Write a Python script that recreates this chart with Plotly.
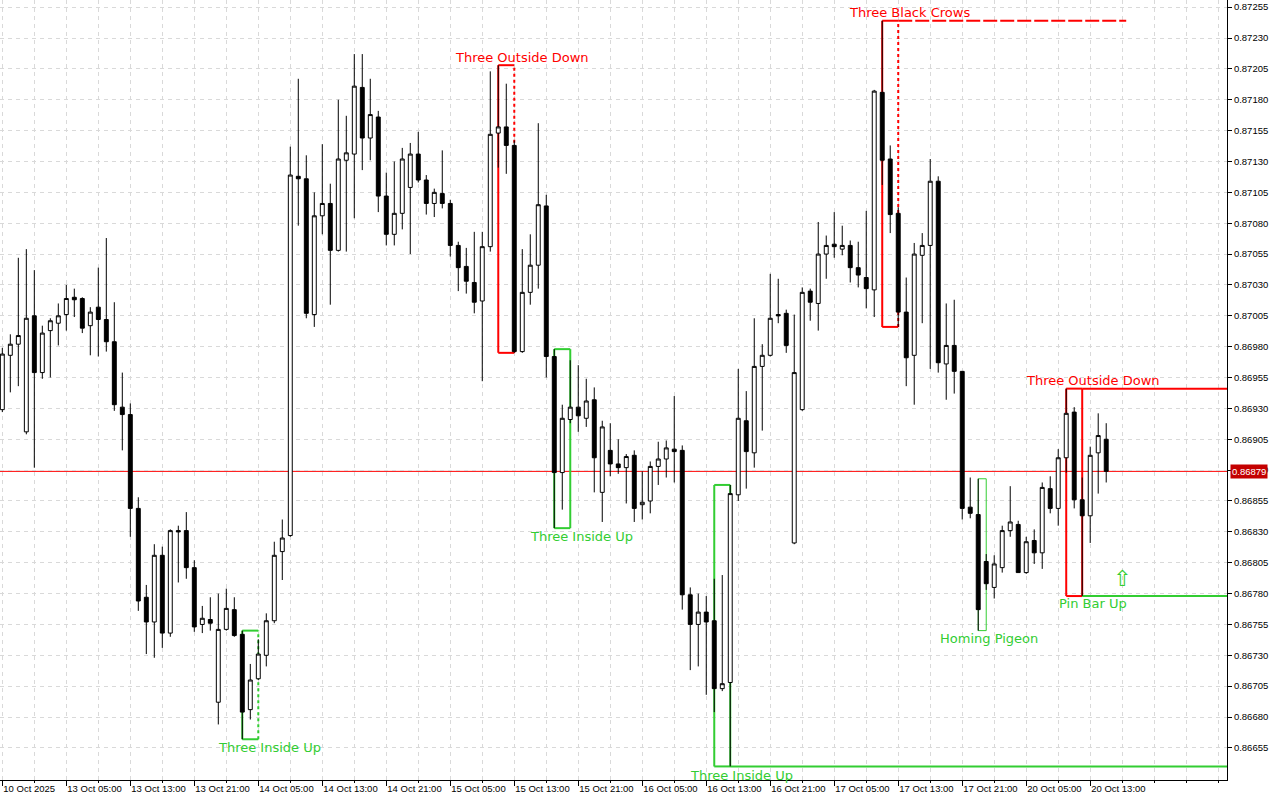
import plotly.graph_objects as go

# ---------------- data (H1 candles) ----------------
opens = [0.86929,0.86973,0.86982,0.86911,0.87005,0.86959,0.86993,0.86999,0.87006,0.87020,
         0.87019,0.86997,0.87012,0.87002,0.86984,0.86931,0.86925,0.86849,0.86777,0.86757,
         0.86811,0.86748,0.86831,0.86831,0.86801,0.86755,0.86759,0.86692,0.86751,0.86767,
         0.86747,0.86686,0.86711,0.86730,0.86758,0.86814,0.86827,0.87118,0.87116,0.87006,
         0.87086,0.87096,0.87058,0.87131,0.87136,0.87190,0.87149,0.87166,0.87102,0.87071,
         0.87088,0.87109,0.87136,0.87115,0.87096,0.87104,0.87096,0.87062,0.87045,0.87032,
         0.87017,0.87061,0.87153,0.87158,0.87143,0.86976,0.87024,0.87046,0.87094,0.86972,
         0.86878,0.86921,0.86931,0.86922,0.86937,0.86862,0.86896,0.86885,0.86882,0.86892,
         0.86852,0.86855,0.86883,0.86889,0.86897,0.86896,0.86779,0.86755,0.86765,0.86758,
         0.86703,0.86708,0.86860,0.86920,0.86894,0.86964,0.86973,0.87006,0.87007,0.86821,
         0.86929,0.87025,0.87015,0.87055,0.87063,0.87059,0.87062,0.87044,0.87036,0.87026,
         0.87186,0.87132,0.87088,0.87008,0.86973,0.87054,0.87062,0.87114,0.86966,0.86981,
         0.86960,0.86850,0.86844,0.86806,0.86785,0.86801,0.86831,0.86836,0.86797,0.86823,
         0.86813,0.86865,0.86849,0.86890,0.86927,0.86856,0.86843,0.86894,0.86905]
highs = [0.86979,0.86990,0.87052,0.87059,0.87042,0.86997,0.87003,0.87015,0.87030,0.87027,
         0.87020,0.87012,0.87044,0.87068,0.87016,0.86959,0.86934,0.86858,0.86787,0.86820,
         0.86818,0.86832,0.86835,0.86846,0.86807,0.86770,0.86777,0.86780,0.86784,0.86777,
         0.86750,0.86723,0.86743,0.86764,0.86822,0.86840,0.87142,0.87197,0.87135,0.87105,
         0.87144,0.87112,0.87180,0.87167,0.87217,0.87217,0.87197,0.87171,0.87121,0.87130,
         0.87141,0.87145,0.87154,0.87119,0.87108,0.87139,0.87099,0.87065,0.87060,0.87073,
         0.87073,0.87203,0.87208,0.87193,0.87147,0.87059,0.87071,0.87161,0.87103,0.86978,
         0.86933,0.86969,0.86965,0.86954,0.86947,0.86920,0.86918,0.86905,0.86893,0.86896,
         0.86879,0.86887,0.86903,0.86904,0.86940,0.86900,0.86785,0.86780,0.86778,0.86792,
         0.86795,0.86868,0.86962,0.86944,0.87003,0.86982,0.87039,0.87035,0.87010,0.87006,
         0.87028,0.87027,0.87081,0.87070,0.87089,0.87078,0.87066,0.87065,0.87090,0.87188,
         0.87244,0.87143,0.87093,0.87036,0.87064,0.87072,0.87132,0.87118,0.87015,0.87018,
         0.86960,0.86874,0.86873,0.86812,0.86811,0.86835,0.86867,0.86839,0.86826,0.86832,
         0.86870,0.86875,0.86897,0.86946,0.86931,0.86874,0.86899,0.86926,0.86918]
lows = [0.86927,0.86943,0.86948,0.86909,0.86882,0.86954,0.86955,0.86981,0.86993,0.87004,
        0.86991,0.86973,0.86972,0.86976,0.86928,0.86896,0.86826,0.86766,0.86731,0.86728,
        0.86736,0.86745,0.86789,0.86792,0.86749,0.86748,0.86750,0.86674,0.86750,0.86745,
        0.86662,0.86678,0.86710,0.86721,0.86756,0.86791,0.86826,0.87078,0.87003,0.86996,
        0.87071,0.87014,0.87057,0.87057,0.87084,0.87123,0.87131,0.87089,0.87062,0.87062,
        0.87075,0.87055,0.87113,0.87087,0.87085,0.87092,0.87053,0.87025,0.87023,0.87007,
        0.86952,0.87057,0.87125,0.87120,0.86975,0.86975,0.87014,0.87027,0.86955,0.86833,
        0.86848,0.86918,0.86911,0.86915,0.86862,0.86838,0.86875,0.86877,0.86853,0.86838,
        0.86840,0.86845,0.86868,0.86874,0.86870,0.86767,0.86718,0.86721,0.86698,0.86684,
        0.86701,0.86640,0.86855,0.86865,0.86882,0.86912,0.86972,0.86999,0.86975,0.86820,
        0.86928,0.87001,0.86993,0.87035,0.87052,0.87054,0.87032,0.87028,0.87011,0.87004,
        0.87111,0.87072,0.86996,0.86948,0.86933,0.86999,0.86962,0.86959,0.86937,0.86942,
        0.86840,0.86841,0.86750,0.86783,0.86776,0.86797,0.86826,0.86797,0.86796,0.86804,
        0.86800,0.86845,0.86835,0.86878,0.86849,0.86778,0.86821,0.86861,0.86870]
closes = [0.86974,0.86982,0.86989,0.87003,0.86959,0.86991,0.87001,0.87005,0.87019,0.87018,
          0.86995,0.87008,0.87002,0.86984,0.86933,0.86925,0.86849,0.86774,0.86757,0.86811,
          0.86748,0.86831,0.86830,0.86801,0.86753,0.86760,0.86756,0.86751,0.86768,0.86746,
          0.86684,0.86710,0.86731,0.86758,0.86811,0.86825,0.87119,0.87116,0.87007,0.87086,
          0.87096,0.87058,0.87132,0.87137,0.87191,0.87149,0.87168,0.87102,0.87071,0.87088,
          0.87132,0.87136,0.87115,0.87096,0.87105,0.87096,0.87062,0.87044,0.87033,0.87016,
          0.87061,0.87152,0.87158,0.87143,0.86976,0.87024,0.87046,0.87095,0.86972,0.86878,
          0.86922,0.86931,0.86924,0.86936,0.86890,0.86915,0.86885,0.86882,0.86891,0.86849,
          0.86854,0.86883,0.86889,0.86898,0.86895,0.86779,0.86755,0.86765,0.86757,0.86703,
          0.86707,0.86861,0.86922,0.86895,0.86964,0.86973,0.87003,0.87005,0.86981,0.86959,
          0.87024,0.87016,0.87055,0.87062,0.87061,0.87062,0.87044,0.87038,0.87027,0.87187,
          0.87131,0.87087,0.87008,0.86971,0.87055,0.87062,0.87114,0.86967,0.86981,0.86960,
          0.86849,0.86845,0.86767,0.86788,0.86804,0.86831,0.86838,0.86797,0.86822,0.86813,
          0.86866,0.86849,0.86890,0.86926,0.86856,0.86843,0.86892,0.86908,0.86879]

time_tick_index = [0, 8, 16, 24, 32, 40, 48, 56, 64, 72, 80, 88, 96, 104, 112, 120, 128, 136]
time_tick_labels = ["10 Oct 2025", "13 Oct 05:00", "13 Oct 13:00", "13 Oct 21:00",
                    "14 Oct 05:00", "14 Oct 13:00", "14 Oct 21:00", "15 Oct 05:00",
                    "15 Oct 13:00", "15 Oct 21:00", "16 Oct 05:00", "16 Oct 13:00",
                    "16 Oct 21:00", "17 Oct 05:00", "17 Oct 13:00", "17 Oct 21:00",
                    "20 Oct 05:00", "20 Oct 13:00"]

price_ticks = [0.86655, 0.86680, 0.86705, 0.86730, 0.86755, 0.86780, 0.86805, 0.86830,
               0.86855, 0.86880, 0.86905, 0.86930, 0.86955, 0.86980, 0.87005, 0.87030,
               0.87055, 0.87080, 0.87105, 0.87130, 0.87155, 0.87180, 0.87205, 0.87230,
               0.87255]
price_tick_labels = ["%.5f" % v for v in price_ticks]

current_price = 0.86879

# candle patterns
pattern_names = ["Three Inside Up", "Three Outside Down", "Three Inside Up", "Three Inside Up",
                 "Three Black Crows", "Homing Pigeon", "Three Outside Down"]
pattern_start = [30, 62, 69, 89, 110, 122, 133]
pattern_end = [32, 64, 71, 91, 112, 123, 135]
pattern_high = [0.86750, 0.87208, 0.86978, 0.86868, 0.87244, 0.86873, 0.86946]
pattern_low = [0.86662, 0.86975, 0.86833, 0.86640, 0.86996, 0.86750, 0.86778]
pattern_bullish = [True, False, True, True, False, True, False]

pin_bar_index = 135
pin_bar_level = 0.86778

# ---------------- style ----------------
RED = "#ff0000"
GREEN = "#32cd32"
GRID = "#d9d9d9"
X_MIN, X_MAX = -0.29, 153.1
Y_MIN, Y_MAX = 0.866290, 0.872608

label_pos_x = [33.4, 65.0, 72.4, 92.4, 113.4, 123.4, 136.4]
label_pos_y = [0.86655, 0.87214, 0.86826, 0.86633, 0.87251, 0.86744, 0.86953]
right_edge_dash = ["dot", "dot", "solid", "solid", "dot", "solid", "solid"]
rect_width = [2, 2, 2, 2, 2, 1, 2]

x = list(range(len(opens)))

fig = go.Figure()
fig.add_trace(go.Candlestick(
    x=x, open=opens, high=highs, low=lows, close=closes,
    increasing=dict(line=dict(color="black", width=1), fillcolor="white"),
    decreasing=dict(line=dict(color="black", width=1), fillcolor="black"),
    whiskerwidth=0, hoverinfo="skip", showlegend=False,
))

shapes = []
annotations = []

# current price line
shapes.append(dict(type="line", xref="paper", yref="y", x0=0, x1=1,
                   y0=current_price, y1=current_price,
                   line=dict(color="#ff0000", width=1), layer="between"))

for k, name in enumerate(pattern_names):
    col = GREEN if pattern_bullish[k] else RED
    x0, x1 = pattern_start[k], pattern_end[k]
    hi, lo = pattern_high[k], pattern_low[k]
    w = rect_width[k]
    for (ax, ay, bx, by, dash) in [(x0, lo, x0, hi, "solid"), (x0, hi, x1, hi, "solid"),
                                   (x0, lo, x1, lo, "solid"), (x1, lo, x1, hi, right_edge_dash[k])]:
        shapes.append(dict(type="line", xref="x", yref="y", x0=ax, y0=ay, x1=bx, y1=by,
                           line=dict(color=col, width=w, dash=dash), layer="between"))
    annotations.append(dict(x=label_pos_x[k], y=label_pos_y[k], xref="x", yref="y",
                            text=name, showarrow=False,
                            font=dict(family="DejaVu Sans", size=13, color=col)))

# extension lines
shapes.append(dict(type="line", xref="x", yref="y", x0=pattern_end[3], x1=X_MAX,
                   y0=pattern_low[3], y1=pattern_low[3],
                   line=dict(color=GREEN, width=2), layer="between"))
shapes.append(dict(type="line", xref="x", yref="y", x0=pattern_end[4], x1=140.5,
                   y0=pattern_high[4], y1=pattern_high[4],
                   line=dict(color=RED, width=2, dash="14px,3px"), layer="between"))
shapes.append(dict(type="line", xref="x", yref="y", x0=pattern_end[6], x1=X_MAX,
                   y0=pattern_high[6], y1=pattern_high[6],
                   line=dict(color=RED, width=2), layer="between"))
shapes.append(dict(type="line", xref="x", yref="y", x0=pin_bar_index, x1=X_MAX,
                   y0=pin_bar_level, y1=pin_bar_level,
                   line=dict(color=GREEN, width=2), layer="between"))

annotations.append(dict(x=136.4, y=0.86772, xref="x", yref="y", text="Pin Bar Up",
                        showarrow=False, font=dict(family="DejaVu Sans", size=13, color=GREEN)))
annotations.append(dict(x=140.0, y=0.86792, xref="x", yref="y", text="\u21e7",
                        showarrow=False, font=dict(family="DejaVu Sans", size=22, color=GREEN)))

# current price tag
annotations.append(dict(x=1, xref="paper", xanchor="left", xshift=3, y=current_price, yref="y",
                        text=f"{current_price:.5f}", showarrow=False, bgcolor="#c40000",
                        borderpad=1, font=dict(family="Liberation Sans", size=9.5, color="white")))

fig.update_layout(
    width=1280, height=800,
    margin=dict(l=0, r=53, t=0, b=20),
    paper_bgcolor="white", plot_bgcolor="white",
    showlegend=False, hovermode=False,
    shapes=shapes, annotations=annotations,
    font=dict(family="Liberation Sans", size=9.5, color="black"),
)
fig.update_xaxes(
    range=[X_MIN, X_MAX], rangeslider_visible=False, fixedrange=True,
    tickmode="array", tickvals=time_tick_index, ticktext=time_tick_labels,
    ticks="outside", ticklen=5, tickcolor="black", ticklabelposition="outside right",
    tickfont=dict(family="Liberation Sans", size=9.5, color="black"),
    showgrid=True, gridcolor=GRID, griddash="4px,4px", gridwidth=1,
    minor=dict(tickmode="linear", tick0=0, dtick=4, showgrid=True, gridcolor=GRID,
               griddash="4px,4px", ticks="outside", ticklen=2, tickcolor="black"),
    showline=True, linecolor="black", linewidth=1, mirror=True, zeroline=False,
)
fig.update_yaxes(
    range=[Y_MIN, Y_MAX], side="right", fixedrange=True,
    tickmode="array", tickvals=price_ticks, ticktext=price_tick_labels,
    ticks="outside", ticklen=4, tickcolor="black",
    tickfont=dict(family="Liberation Sans", size=9.5, color="black"),
    showgrid=True, gridcolor=GRID, griddash="4px,4px", gridwidth=1,
    showline=True, linecolor="black", linewidth=1, mirror=True, zeroline=False,
)

fig.write_html("out.html", config={"displayModeBar": False},
               post_script="document.body.style.margin='0px';")
